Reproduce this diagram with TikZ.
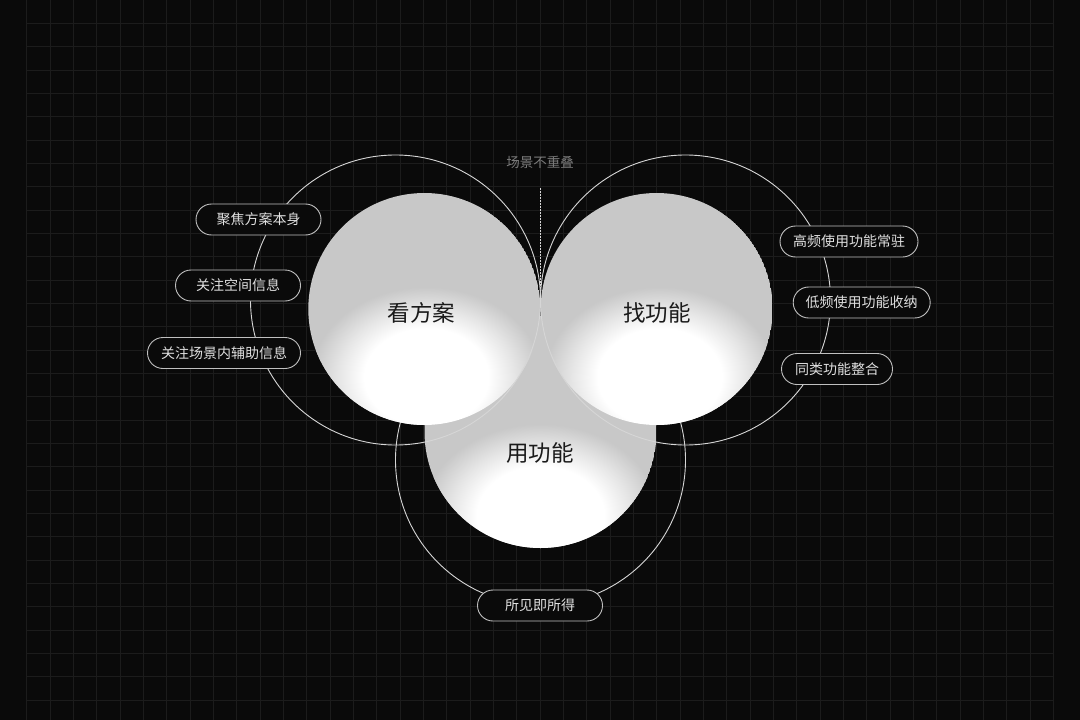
\documentclass[tikz,border=0pt]{standalone}
\usepackage{fontspec}
\setmainfont{Noto Sans CJK SC}
\usetikzlibrary{calc}
\definecolor{bg}{HTML}{0A0A0A}
\definecolor{gridc}{HTML}{1C1C1C}
\definecolor{cgray}{HTML}{C8C8C8}
\definecolor{cmid}{HTML}{E6E6E6}
\definecolor{ring}{HTML}{D6D6D6}
\definecolor{pillborder}{HTML}{C0C0C0}
\definecolor{pilltext}{HTML}{E0E0E0}
\definecolor{note}{HTML}{7C7C7C}
\definecolor{ink}{HTML}{1A1A1A}
\pgfdeclareradialshading{glow}{\pgfpointorigin}{color(0bp)=(white); color(13.5bp)=(white); color(19bp)=(cmid); color(25bp)=(cgray); color(50bp)=(cgray)}
\tikzset{
  pill/.style={draw=pillborder, line width=0.9pt, fill=bg, rounded corners=15.5pt,
    minimum height=31pt, inner sep=0pt, text=pilltext, font=\fontsize{14}{16}\selectfont},
  ringline/.style={draw=ring, line width=0.9pt},
  biglabel/.style={text=ink, font=\fontsize{22.5}{26}\selectfont, inner sep=0pt},
}
\begin{document}
\begin{tikzpicture}[x=1pt, y=-1pt]
\fill[bg] (0,0) rectangle (1080,720);
\useasboundingbox (0,0) rectangle (1080,720);
% grid
\foreach \i in {0,...,44} \draw[gridc, line width=0.8pt] ({26.667+23.333*\i},0) -- ({26.667+23.333*\i},720);
\foreach \j in {1,...,30} \draw[gridc, line width=0.8pt] (26.667,{23.333*\j}) -- (1053.333,{23.333*\j});
% centres
\coordinate (cL) at (424.3,309);
\coordinate (cR) at (656.7,309);
\coordinate (cB) at (540.5,432);
\coordinate (oL) at (395.5,300);
\coordinate (oR) at (685.5,300);
\coordinate (oB) at (540.5,460);
% bottom ring (under the discs)
\draw[ringline] (oB) circle (145);
% bottom disc
\begin{scope}
  \clip (cB) circle (116);
  \fill[cgray] (cB) circle (116);
  \shade[shading=glow] ($(cB)+(0,84)$) ellipse [x radius=118, y radius=92];
\end{scope}
% left disc
\begin{scope}
  \clip (cL) circle (116);
  \fill[cgray] (cL) circle (116);
  \shade[shading=glow] ($(cL)+(2,68)$) ellipse [x radius=115, y radius=90];
\end{scope}
% right disc
\begin{scope}
  \clip (cR) circle (116);
  \fill[cgray] (cR) circle (116);
  \shade[shading=glow] ($(cR)+(3,68)$) ellipse [x radius=115, y radius=90];
\end{scope}
% upper rings
\draw[ringline] (oL) circle (145);
\draw[ringline] (oR) circle (145);
% divider
\coordinate (dtop) at (540.5,188);
\coordinate (dbot) at (540.5,300);
\draw[draw=ring, line width=0.6pt, dash pattern=on 1.5pt off 1.5pt] (dtop) -- (dbot);
\node[text=note, font=\fontsize{13.5}{16}\selectfont, inner sep=0pt] (scene) at (540,162) {场景不重叠};
% disc labels
\node[biglabel] (kan) at (421.5,312.5) {看方案};
\node[biglabel] (zhao) at (657,312.5) {找功能};
\node[biglabel] (yong) at (540,453) {用功能};
% pills
\node[pill, minimum width=125pt] (p1) at (258.5,219.5) {聚焦方案本身};
\node[pill, minimum width=125pt] (p2) at (238,285.5) {关注空间信息};
\node[pill, minimum width=153pt] (p3) at (224,353) {关注场景内辅助信息};
\node[pill, minimum width=138pt] (p4) at (849,241.5) {高频使用功能常驻};
\node[pill, minimum width=137pt] (p5) at (861.7,302.5) {低频使用功能收纳};
\node[pill, minimum width=111pt] (p6) at (837,369) {同类功能整合};
\node[pill, minimum width=125pt] (p7) at (540,605.5) {所见即所得};
\end{tikzpicture}
\end{document}
